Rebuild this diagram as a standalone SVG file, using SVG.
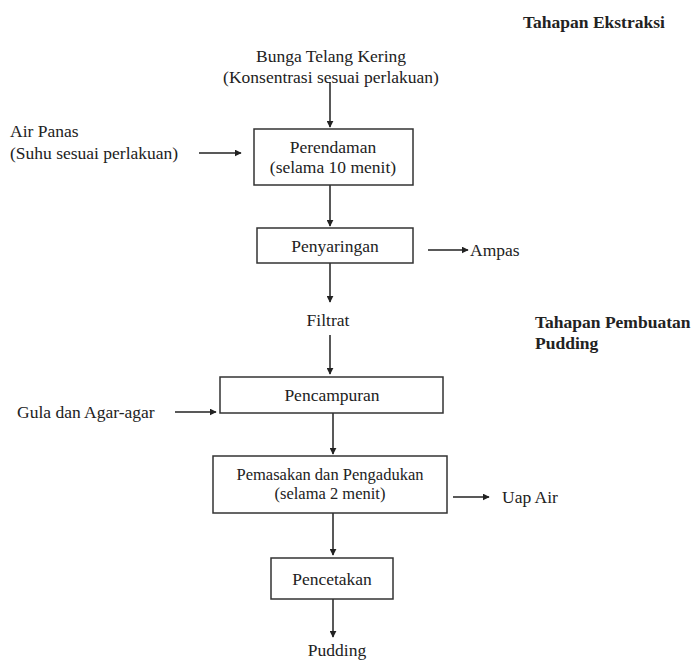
<svg xmlns="http://www.w3.org/2000/svg" width="700" height="664" viewBox="0 0 700 664">
<defs>
<marker id="ah" viewBox="0 0 10 10" refX="9" refY="5" markerWidth="7" markerHeight="7" markerUnits="userSpaceOnUse" orient="auto">
<path d="M0,0 L10,5 L0,10 z" fill="#222"/>
</marker>
<style>
text{font-family:"Liberation Serif","Times New Roman","DejaVu Serif",serif;font-size:17.5px;fill:#222}
.h{font-weight:bold}
.m{text-anchor:middle}
rect{fill:#fff;stroke:#333;stroke-width:1.5}
#connectors line{stroke:#222;stroke-width:1.5;marker-end:url(#ah)}
</style>
</defs>
<rect x="0" y="0" width="700" height="664" style="stroke:none"/>
<g id="connectors">
<line x1="330" y1="82" x2="330" y2="127"/>
<line x1="199" y1="153" x2="241" y2="153"/>
<line x1="330" y1="185" x2="330" y2="226"/>
<line x1="428" y1="250" x2="468" y2="250"/>
<line x1="330" y1="263" x2="330" y2="302"/>
<line x1="330" y1="335" x2="330" y2="374"/>
<line x1="175" y1="412" x2="216" y2="412"/>
<line x1="333" y1="413" x2="333" y2="454"/>
<line x1="453" y1="497" x2="489" y2="497"/>
<line x1="333" y1="513" x2="333" y2="555"/>
<line x1="333" y1="599" x2="333" y2="637"/>
</g>
<g id="heading1" font-family="Liberation Serif, serif"><text class="h" x="523" y="28">Tahapan Ekstraksi</text></g>
<g id="heading2"><text class="h" x="535" y="328">Tahapan Pembuatan</text><text class="h" x="535" y="349">Pudding</text></g>
<g id="bunga"><text class="m" x="331" y="62">Bunga Telang Kering</text><text class="m" x="331" y="83">(Konsentrasi sesuai perlakuan)</text></g>
<g id="airpanas"><text x="10" y="137">Air Panas</text><text x="10" y="159">(Suhu sesuai perlakuan)</text></g>
<g id="perendaman"><rect x="254" y="129" width="159" height="56"/><text class="m" x="333" y="153">Perendaman</text><text class="m" x="333" y="173">(selama 10 menit)</text></g>
<g id="penyaringan"><rect x="257" y="228" width="156" height="35"/><text class="m" x="335" y="252">Penyaringan</text></g>
<g id="ampas"><text x="470" y="256">Ampas</text></g>
<g id="filtrat"><text class="m" x="328" y="326">Filtrat</text></g>
<g id="gula"><text x="17" y="418">Gula dan Agar-agar</text></g>
<g id="pencampuran"><rect x="220" y="377" width="223" height="36"/><text class="m" x="332" y="401">Pencampuran</text></g>
<g id="pemasakan"><rect x="213" y="456" width="234" height="57"/><text class="m" x="330" y="480" style="font-size:16.5px">Pemasakan dan Pengadukan</text><text class="m" x="330" y="499" style="font-size:16.5px">(selama 2 menit)</text></g>
<g id="uapair"><text x="502" y="503">Uap Air</text></g>
<g id="pencetakan"><rect x="271" y="558" width="122" height="41"/><text class="m" x="332" y="585">Pencetakan</text></g>
<g id="pudding"><text class="m" x="337" y="656">Pudding</text></g>
</svg>
